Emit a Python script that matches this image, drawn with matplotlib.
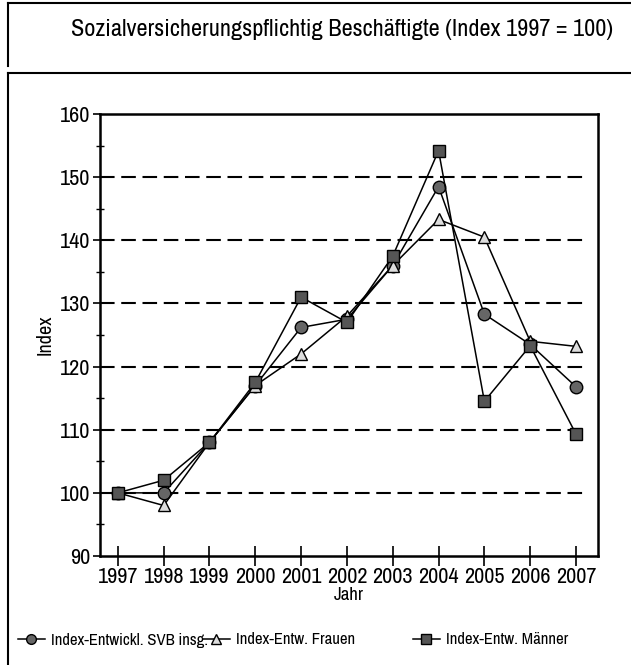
import matplotlib
matplotlib.use("Agg")
import matplotlib.pyplot as plt
from matplotlib import font_manager
from matplotlib.lines import Line2D
from matplotlib.ticker import MultipleLocator

# prefer a narrow face if the system has one
narrow = None
for f in font_manager.fontManager.ttflist:
    if ("Narrow" in f.name or "Condensed" in f.name) and f.style == "normal":
        narrow = f.name
        break
plt.rcParams["font.family"] = [narrow or "DejaVu Sans", "DejaVu Sans"]
SCALE = 1.0 if narrow else 0.82

YEARS = [1997, 1998, 1999, 2000, 2001, 2002, 2003, 2004, 2005, 2006, 2007]
SVB_TOTAL = [100, 100, 108, 117, 126.2, 127.5, 136, 148.5, 128.3, 123.5, 116.8]
FRAUEN = [100, 98, 108, 117, 122, 128, 136, 143.3, 140.5, 124, 123.2]
MAENNER = [100, 102, 108, 117.5, 131, 127, 137.5, 154.2, 114.5, 123.3, 109.3]

LABELS = ["Index-Entwickl. SVB insg.", "Index-Entw. Frauen", "Index-Entw. Männer"]
TITLE = "Sozialversicherungspflichtig Beschäftigte (Index 1997 = 100)"

STYLES = [
    dict(marker="o", markersize=9, markerfacecolor="#666666", markeredgecolor="black"),
    dict(marker="^", markersize=9, markerfacecolor="#dddddd", markeredgecolor="black"),
    dict(marker="s", markersize=9, markerfacecolor="#555555", markeredgecolor="black"),
]

fig = plt.figure(figsize=(6.31, 6.65), dpi=100)
ax = fig.add_axes([100 / 631, 1 - 556 / 665, 498 / 631, 442 / 665])

for series, style in zip([SVB_TOTAL, FRAUEN, MAENNER], STYLES):
    ax.plot(YEARS, series, color="black", linewidth=1.1, zorder=3, **style)

# dashed reference lines
for y in [100, 110, 120, 130, 140, 150]:
    ax.axhline(y, xmin=0, xmax=0.98, color="black", linestyle=(0, (7, 3.2)),
               linewidth=1.5, zorder=1)

ax.set_xlim(1996.61, 2007.48)
ax.set_ylim(90, 160)
ax.set_xticks(YEARS)
ax.yaxis.set_major_locator(MultipleLocator(10))
ax.yaxis.set_minor_locator(MultipleLocator(5))
ax.tick_params(axis="x", direction="inout", length=14, width=1.2, labelsize=16 * SCALE, pad=1)
ax.tick_params(axis="y", which="major", direction="out", length=5, width=1.2,
               labelsize=16 * SCALE, pad=2)
ax.tick_params(axis="y", which="minor", direction="inout", length=6, width=1.0)
for s in ax.spines.values():
    s.set_linewidth(1.8)

ax.set_xlabel("Jahr", fontsize=13.5 * SCALE, labelpad=0)
ax.set_ylabel("Index", fontsize=14.5 * SCALE, labelpad=4)

# outer frame lines
fig.add_artist(Line2D([8 / 631, 1], [1 - 3 / 665] * 2, color="black", linewidth=1.5))
fig.add_artist(Line2D([8 / 631] * 2, [1 - 3 / 665, 1 - 66 / 665], color="black", linewidth=1.5))
fig.add_artist(Line2D([8 / 631, 1], [1 - 73 / 665] * 2, color="black", linewidth=1.5))
fig.add_artist(Line2D([8 / 631] * 2, [1 - 73 / 665, 0], color="black", linewidth=1.5))

fig.text(613 / 631, 1 - 30 / 665, TITLE, ha="right", va="center", fontsize=17.5 * SCALE)

# legend, three separate entries
legend_x = [18 / 631, 203 / 631, 413 / 631]
for x, label, style in zip(legend_x, LABELS, STYLES):
    h = Line2D([], [], color="black", linewidth=1.1,
               **{**style, "markersize": 7})
    fig.legend([h], [label], loc="center left", bbox_to_anchor=(x, 1 - 640 / 665),
               frameon=False, fontsize=12 * SCALE, handlelength=1.6, handletextpad=0.4,
               borderaxespad=0, borderpad=0)

fig.savefig("out.png", dpi=100)
